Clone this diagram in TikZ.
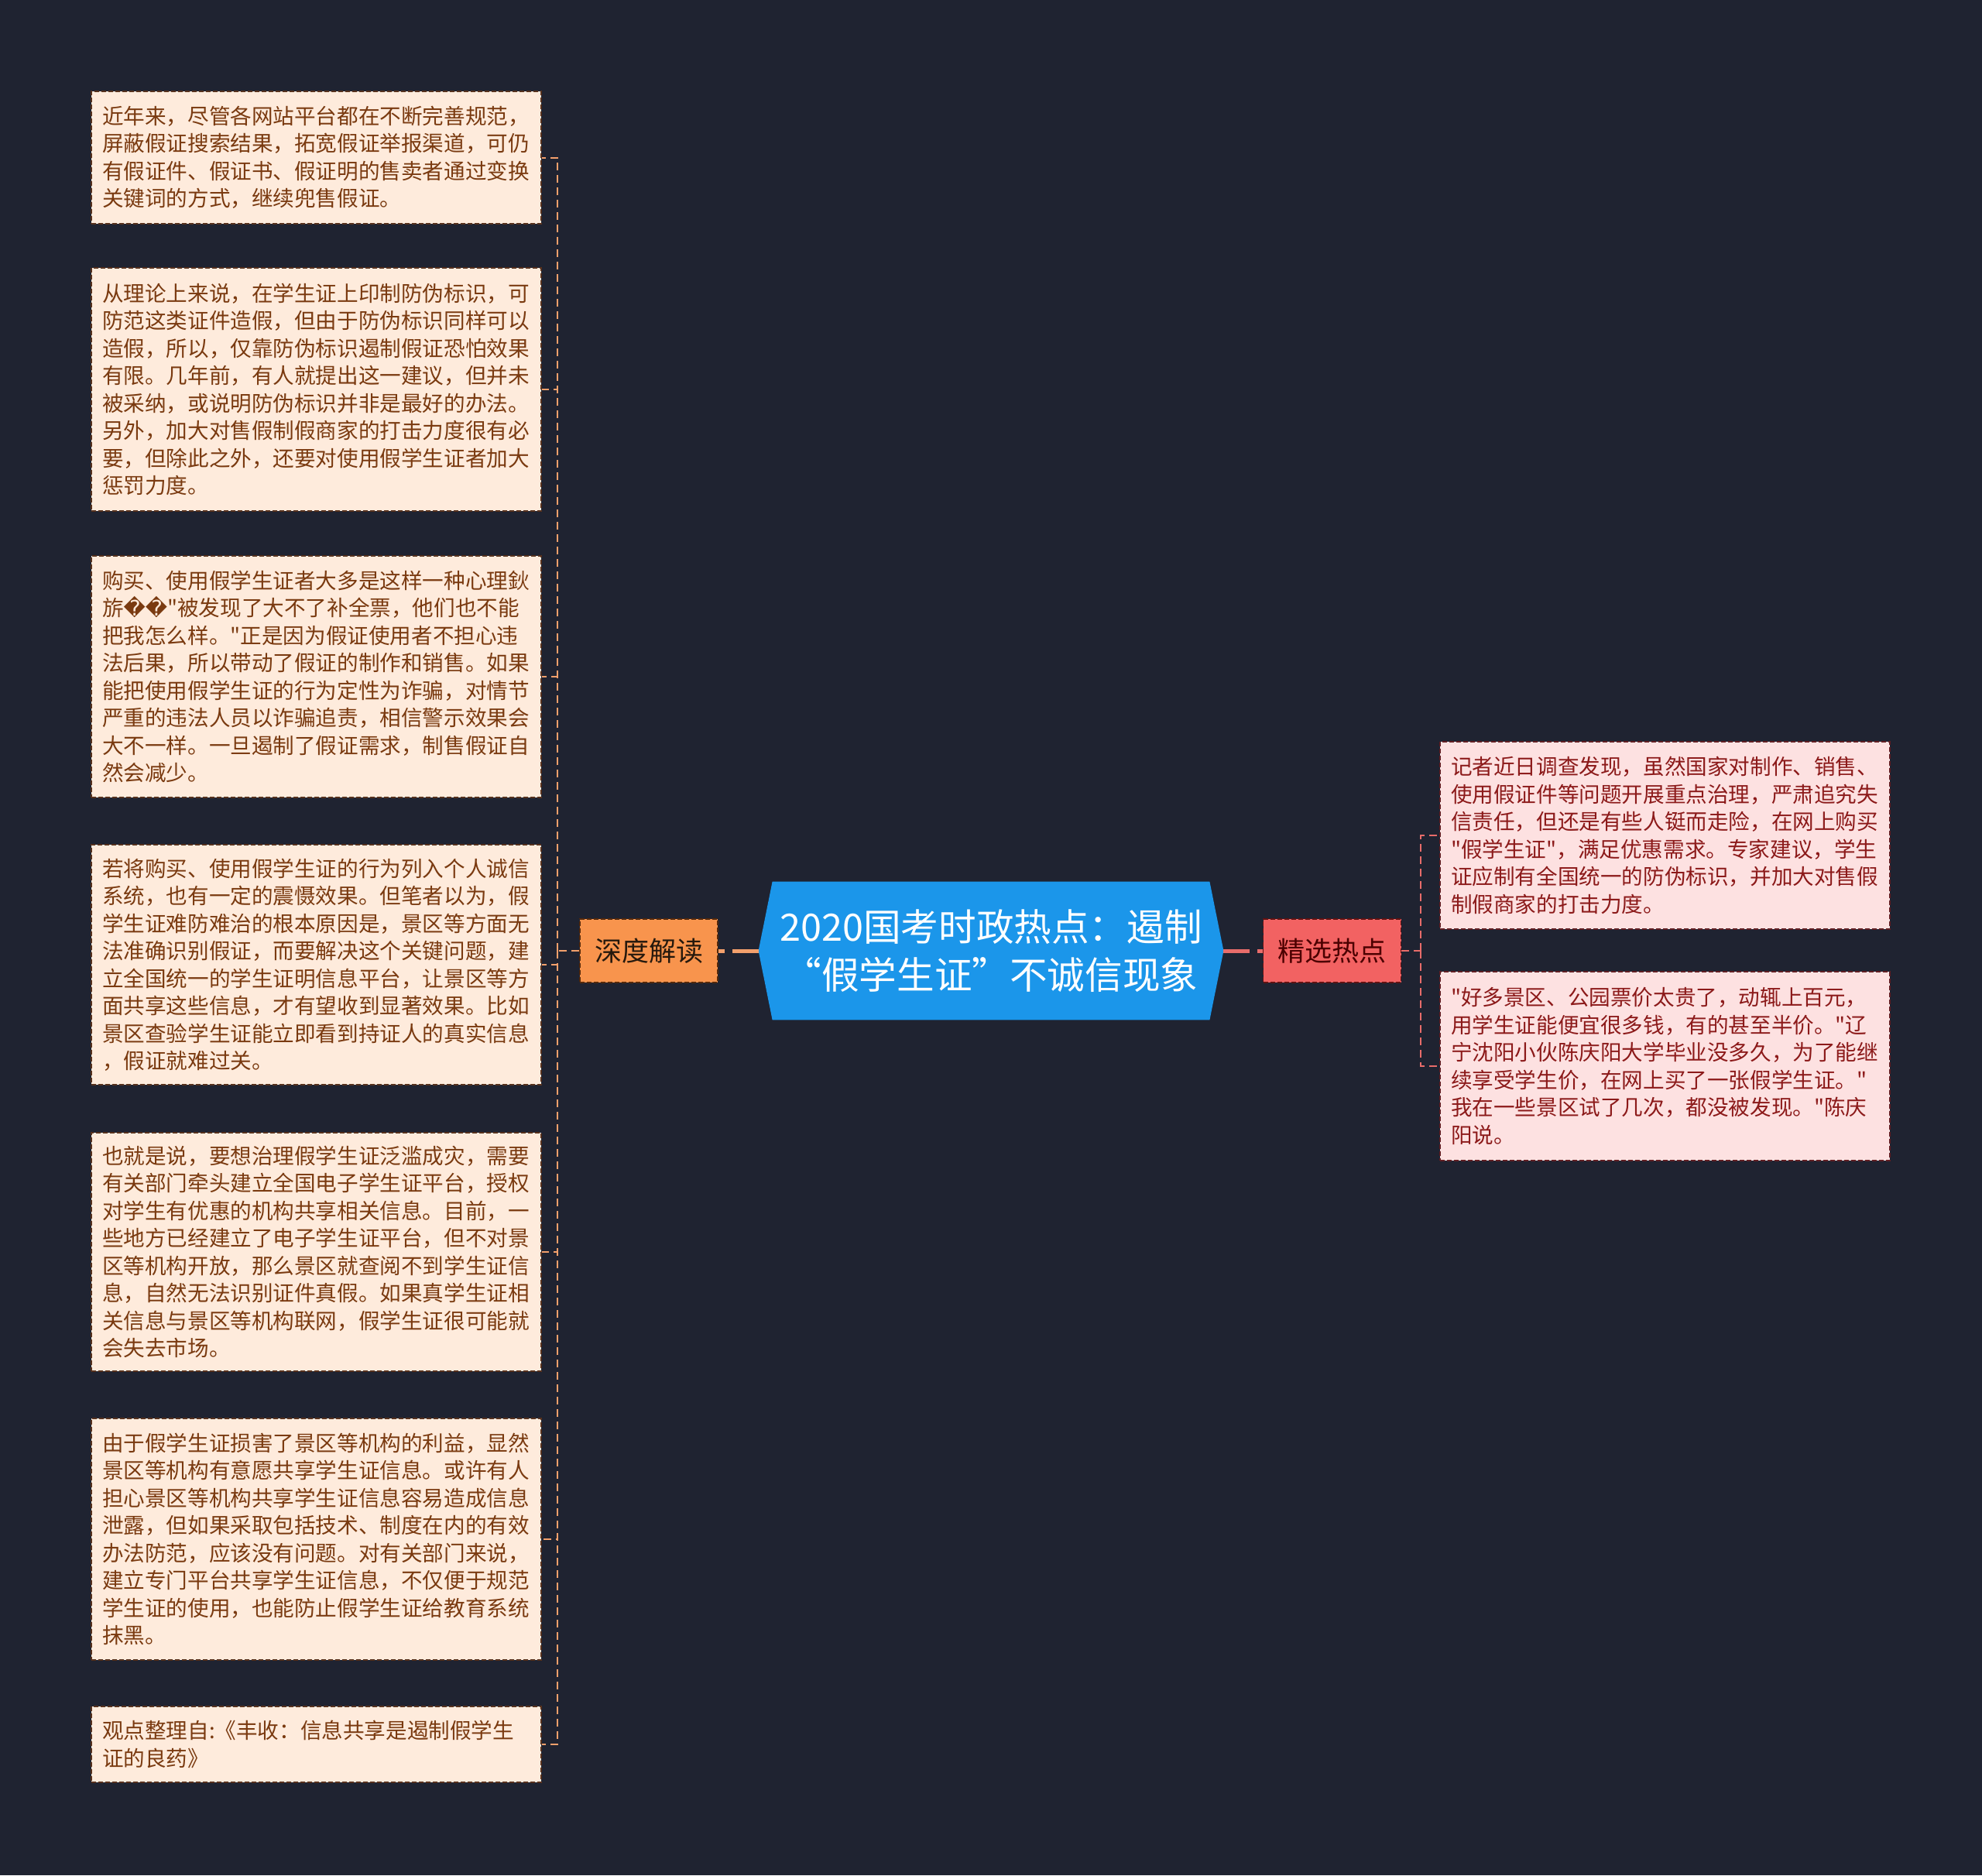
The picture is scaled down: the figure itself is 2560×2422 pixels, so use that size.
\documentclass[tikz,border=0pt]{standalone}
\usepackage{fontspec}
\setmainfont{Noto Sans CJK SC}
\newfontfamily\cjk{Noto Sans CJK SC}
\newfontfamily\symfont{DejaVu Sans}
\usetikzlibrary{backgrounds}
\definecolor{canvas}{HTML}{1F2331}
\definecolor{hub}{HTML}{1B96EA}
\definecolor{deep}{HTML}{F8944D}
\definecolor{hot}{HTML}{F26262}
\definecolor{deepline}{HTML}{F3A06C}
\definecolor{hotline}{HTML}{E86C6A}
\definecolor{peach}{HTML}{FEEBDC}
\definecolor{blush}{HTML}{FDE1E1}
\definecolor{brownink}{HTML}{7A3A10}
\definecolor{redink}{HTML}{8C1A1A}
\tikzset{
  topic/.style={draw, dash pattern=on 3pt off 1.5pt, line width=0.7pt, minimum width=89pt,
    minimum height=41pt, inner sep=0pt, font=\fontsize{17.5}{21}\selectfont},
  leaf/.style={draw, dash pattern=on 3pt off 1.5pt, line width=0.6pt, minimum width=290.5pt,
    text width=276.5pt, inner sep=7pt, align=left, font=\cjk\fontsize{13.8}{17.75}\selectfont},
  deepleaf/.style={leaf, fill=peach, draw=brownink!60!canvas, text=brownink},
  hotleaf/.style={leaf, fill=blush, draw=redink!60!canvas, text=redink},
  trunk/.style={line width=2.5pt, dash pattern=on 17pt off 5pt},
  twig/.style={line width=1pt, dash pattern=on 5pt off 3pt}
}
\begin{document}
\begin{tikzpicture}[x=0.5pt, y=-0.5pt]
\useasboundingbox (0,0) rectangle (2560,2422);
% centre topic
\node[minimum width=300pt, minimum height=89pt, inner sep=0pt, align=center, text=white,
      font=\fontsize{24.3}{31}\selectfont] (title) at (1280,1228)
      {2020国考时政热点：遏制\\“假学生证”不诚信现象};
\begin{scope}[on background layer]
  \fill[canvas] (0,0) rectangle (2560,2422);
  \fill[hub] (title.west) -- ([xshift=9pt]title.north west) -- ([xshift=-9pt]title.north east)
    -- (title.east) -- ([xshift=-9pt]title.south east) -- ([xshift=9pt]title.south west) -- cycle;
\end{scope}

\node[topic, fill=deep, draw=brownink!70!black, text=black!80!brown] (sdjd) at (838,1228) {深度解读};
\node[topic, fill=hot, draw=redink!70!black, text=black!70!red] (jxrd) at (1720.5,1228) {精选热点};

% left branch
\node[deepleaf, minimum height=85.5pt] (l1) at (408.5,203.5) {近年来，尽管各网站平台都在不断完善规范，\\屏蔽假证搜索结果，拓宽假证举报渠道，可仍\\有假证件、假证书、假证明的售卖者通过变换\\关键词的方式，继续兜售假证。};
\node[deepleaf, minimum height=157pt] (l2) at (408.5,503) {从理论上来说，在学生证上印制防伪标识，可\\防范这类证件造假，但由于防伪标识同样可以\\造假，所以，仅靠防伪标识遏制假证恐怕效果\\有限。几年前，有人就提出这一建议，但并未\\被采纳，或说明防伪标识并非是最好的办法。\\另外，加大对售假制假商家的打击力度很有必\\要，但除此之外，还要对使用假学生证者加大\\惩罚力度。};
\node[deepleaf, minimum height=156pt] (l3) at (408.5,874) {购买、使用假学生证者大多是这样一种心理鈥\\旂{\symfont ��}"被发现了大不了补全票，他们也不能\\把我怎么样。"正是因为假证使用者不担心违\\法后果，所以带动了假证的制作和销售。如果\\能把使用假学生证的行为定性为诈骗，对情节\\严重的违法人员以诈骗追责，相信警示效果会\\大不一样。一旦遏制了假证需求，制售假证自\\然会减少。};
\node[deepleaf, minimum height=155pt] (l4) at (408.5,1246) {若将购买、使用假学生证的行为列入个人诚信\\系统，也有一定的震慑效果。但笔者以为，假\\学生证难防难治的根本原因是，景区等方面无\\法准确识别假证，而要解决这个关键问题，建\\立全国统一的学生证明信息平台，让景区等方\\面共享这些信息，才有望收到显著效果。比如\\景区查验学生证能立即看到持证人的真实信息\\，假证就难过关。};
\node[deepleaf, minimum height=154pt] (l5) at (408.5,1617) {也就是说，要想治理假学生证泛滥成灾，需要\\有关部门牵头建立全国电子学生证平台，授权\\对学生有优惠的机构共享相关信息。目前，一\\些地方已经建立了电子学生证平台，但不对景\\区等机构开放，那么景区就查阅不到学生证信\\息，自然无法识别证件真假。如果真学生证相\\关信息与景区等机构联网，假学生证很可能就\\会失去市场。};
\node[deepleaf, minimum height=156pt] (l6) at (408.5,1988) {由于假学生证损害了景区等机构的利益，显然\\景区等机构有意愿共享学生证信息。或许有人\\担心景区等机构共享学生证信息容易造成信息\\泄露，但如果采取包括技术、制度在内的有效\\办法防范，应该没有问题。对有关部门来说，\\建立专门平台共享学生证信息，不仅便于规范\\学生证的使用，也能防止假学生证给教育系统\\抹黑。};
\node[deepleaf, minimum height=49pt] (l7) at (408.5,2253) {观点整理自:《丰收：信息共享是遏制假学生\\证的良药》};

% right branch
\node[hotleaf, minimum height=121pt] (r1) at (2150.5,1079) {记者近日调查发现，虽然国家对制作、销售、\\使用假证件等问题开展重点治理，严肃追究失\\信责任，但还是有些人铤而走险，在网上购买\\"假学生证"，满足优惠需求。专家建议，学生\\证应制有全国统一的防伪标识，并加大对售假\\制假商家的打击力度。};
\node[hotleaf, minimum height=122pt] (r2) at (2150.5,1377) {"好多景区、公园票价太贵了，动辄上百元，\\用学生证能便宜很多钱，有的甚至半价。"辽\\宁沈阳小伙陈庆阳大学毕业没多久，为了能继\\续享受学生价，在网上买了一张假学生证。"\\我在一些景区试了几次，都没被发现。"陈庆\\阳说。};

% connectors
\coordinate (lj) at (720,1228);
\coordinate (rj) at (1835,1228);
\draw[trunk, deepline] (title.west) -- (sdjd.east);
\draw[trunk, hotline] (title.east) -- (jxrd.west);
\draw[twig, deepline] (sdjd.west) -- (lj);
\draw[twig, hotline] (jxrd.east) -- (rj);
\foreach \n in {l1,l2,l3,l4,l5,l6,l7}
  \draw[twig, deepline] (lj) |- (\n.east);
\foreach \n in {r1,r2}
  \draw[twig, hotline] (rj) |- (\n.west);
\end{tikzpicture}
\end{document}
